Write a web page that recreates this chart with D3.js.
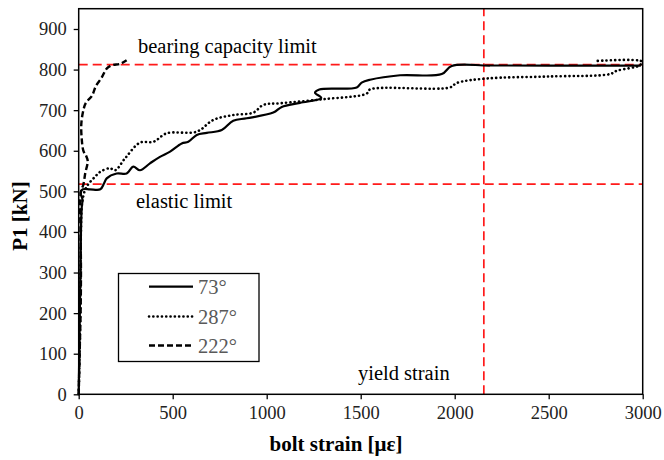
<!DOCTYPE html>
<html>
<head>
<meta charset="utf-8">
<script src="https://cdn.jsdelivr.net/npm/d3@7/dist/d3.min.js"></script>
<style>
  html, body { margin: 0; padding: 0; background: #fff; }
  svg { display: block; }
  text { font-family: "Liberation Serif", "Times New Roman", serif; }
</style>
</head>
<body>
<svg id="chart" width="664" height="460"></svg>
<script>
// Axis ticks
const xTicks = [0, 500, 1000, 1500, 2000, 2500, 3000];
const yTicks = [0, 100, 200, 300, 400, 500, 600, 700, 800, 900];

// Reference limits
const bearingLimit = 812;   // kN
const elasticLimit = 518;   // kN
const yieldStrain = 2155;   // µε

// Bolt strain [µε] vs load P1 [kN] for each bolt position
const strain73 = [0, 3, 6, 9, 12, 16, 20, 10, 22, 60, 115, 135, 149, 202, 255, 290, 326, 379, 432, 486, 548, 583, 628, 681, 761, 822, 894, 1035, 1080, 1177, 1290, 1257, 1280, 1479, 1505, 1550, 1709, 1931, 1984, 2188, 2500, 2990];
const load73   = [0, 100, 200, 300, 400, 460, 480, 497, 505, 505, 505, 520, 532, 544, 544, 561, 552, 569, 585, 598, 618, 622, 639, 644, 651, 674, 680, 694, 708, 718, 730, 743, 751, 756, 768, 775, 786, 789, 809, 810, 810, 810];

const strain287 = [0, 5, 8, 10, 12, 18, 35, 55, 85, 114, 166, 194, 246, 326, 397, 468, 628, 716, 822, 929, 982, 1071, 1301, 1532, 1549, 1975, 2011, 2170, 2500, 2826, 2862, 2986, 2995, 2745];
const load287   = [0, 100, 200, 300, 400, 470, 505, 520, 535, 548, 557, 552, 581, 620, 622, 643, 647, 676, 688, 694, 713, 717, 727, 741, 751, 756, 767, 778, 783, 789, 797, 811, 820, 821];

const strain222 = [0, 5, 10, 12, 10, 8, 15, 24, 35, 48, 40, 25, 16, 14, 25, 38, 70, 92, 122, 150, 180, 220, 255];
const load222   = [0, 100, 200, 300, 400, 480, 505, 515, 545, 575, 587, 600, 630, 667, 700, 718, 735, 760, 780, 803, 811, 814, 823];

const series = [
  { name: "73°",  xs: strain73,  ys: load73,  dash: null,  cap: "butt",  width: 2.2 },
  { name: "287°", xs: strain287, ys: load287, dash: "0.1,4.2", cap: "round", width: 2.6 },
  { name: "222°", xs: strain222, ys: load222, dash: "6,3", cap: "butt",  width: 2.4 }
];

const svg = d3.select("#chart");
const plotLeft = 78.7, plotRight = 642.7, plotTop = 8.7, plotBottom = 394.3;

const x = d3.scaleLinear().domain([0, 3000]).range([plotLeft, plotRight]);
const y = d3.scaleLinear().domain([0, 950]).range([plotBottom, plotTop]);

// Reference limit lines
const red = "#ff1a1a";
const redDash = "9,5";
svg.append("line")
  .attr("x1", x(0)).attr("x2", x(3000))
  .attr("y1", y(bearingLimit)).attr("y2", y(bearingLimit))
  .attr("stroke", red).attr("stroke-width", 1.7).attr("stroke-dasharray", redDash);
svg.append("line")
  .attr("x1", x(0)).attr("x2", x(3000))
  .attr("y1", y(elasticLimit)).attr("y2", y(elasticLimit))
  .attr("stroke", red).attr("stroke-width", 1.7).attr("stroke-dasharray", redDash);
svg.append("line")
  .attr("x1", x(yieldStrain)).attr("x2", x(yieldStrain))
  .attr("y1", y(0)).attr("y2", y(950))
  .attr("stroke", red).attr("stroke-width", 1.7).attr("stroke-dasharray", redDash);

// Curves
const line = d3.line()
  .x(d => x(d[0]))
  .y(d => y(d[1]))
  .curve(d3.curveCatmullRom.alpha(0.5));

series.forEach(s => {
  const pts = s.xs.map((v, i) => [v, s.ys[i]]);
  svg.append("path")
    .datum(pts)
    .attr("d", line)
    .attr("fill", "none")
    .attr("stroke", "#000")
    .attr("stroke-width", s.width)
    .attr("stroke-linecap", s.cap)
    .attr("stroke-linejoin", "round")
    .attr("stroke-dasharray", s.dash);
});

// Axes
const xAxis = d3.axisBottom(x).tickValues(xTicks).tickSize(5).tickPadding(7).tickFormat(d3.format("d"));
const yAxis = d3.axisLeft(y).tickValues(yTicks).tickSize(5).tickPadding(7).tickFormat(d3.format("d"));

const gx = svg.append("g").attr("transform", `translate(0,${plotBottom})`).call(xAxis);
const gy = svg.append("g").attr("transform", `translate(${plotLeft},0)`).call(yAxis);
[gx, gy].forEach(g => {
  g.select(".domain").remove();
  g.selectAll(".tick line").attr("stroke", "#000").attr("stroke-width", 1.3);
  g.selectAll(".tick text")
    .attr("fill", "#222")
    .style("font-family", "'Liberation Serif', serif")
    .style("font-size", "18.5px");
});

// Plot frame
svg.append("rect")
  .attr("x", plotLeft).attr("y", plotTop)
  .attr("width", plotRight - plotLeft).attr("height", plotBottom - plotTop)
  .attr("fill", "none").attr("stroke", "#000").attr("stroke-width", 1.5);

// Axis titles
svg.append("text")
  .attr("x", 336).attr("y", 451)
  .attr("text-anchor", "middle")
  .style("font-size", "21px").style("font-weight", "bold")
  .text("bolt strain [με]");
svg.append("text")
  .attr("transform", "translate(27,216) rotate(-90)")
  .attr("text-anchor", "middle")
  .style("font-size", "21px").style("font-weight", "bold")
  .text("P1 [kN]");

// Annotations
svg.append("text").attr("x", 138).attr("y", 53).style("font-size", "20.5px").text("bearing capacity limit");
svg.append("text").attr("x", 136).attr("y", 208).style("font-size", "20.5px").text("elastic limit");
svg.append("text").attr("x", 358).attr("y", 380).style("font-size", "20.5px").text("yield strain");

// Legend
const legend = svg.append("g");
legend.append("rect")
  .attr("x", 118.5).attr("y", 273.5).attr("width", 140.5).attr("height", 88)
  .attr("fill", "#fff").attr("stroke", "#000").attr("stroke-width", 1.3);
const rowY = [286.7, 316.5, 345.5];
series.forEach((s, i) => {
  legend.append("line")
    .attr("x1", 149).attr("x2", 193)
    .attr("y1", rowY[i]).attr("y2", rowY[i])
    .attr("stroke", "#000").attr("stroke-width", s.width)
    .attr("stroke-linecap", s.cap)
    .attr("stroke-dasharray", s.dash);
  legend.append("text")
    .attr("x", 198).attr("y", rowY[i] + 7.5)
    .attr("fill", "#595959")
    .style("font-size", "20.5px")
    .text(s.name);
});
</script>
</body>
</html>
